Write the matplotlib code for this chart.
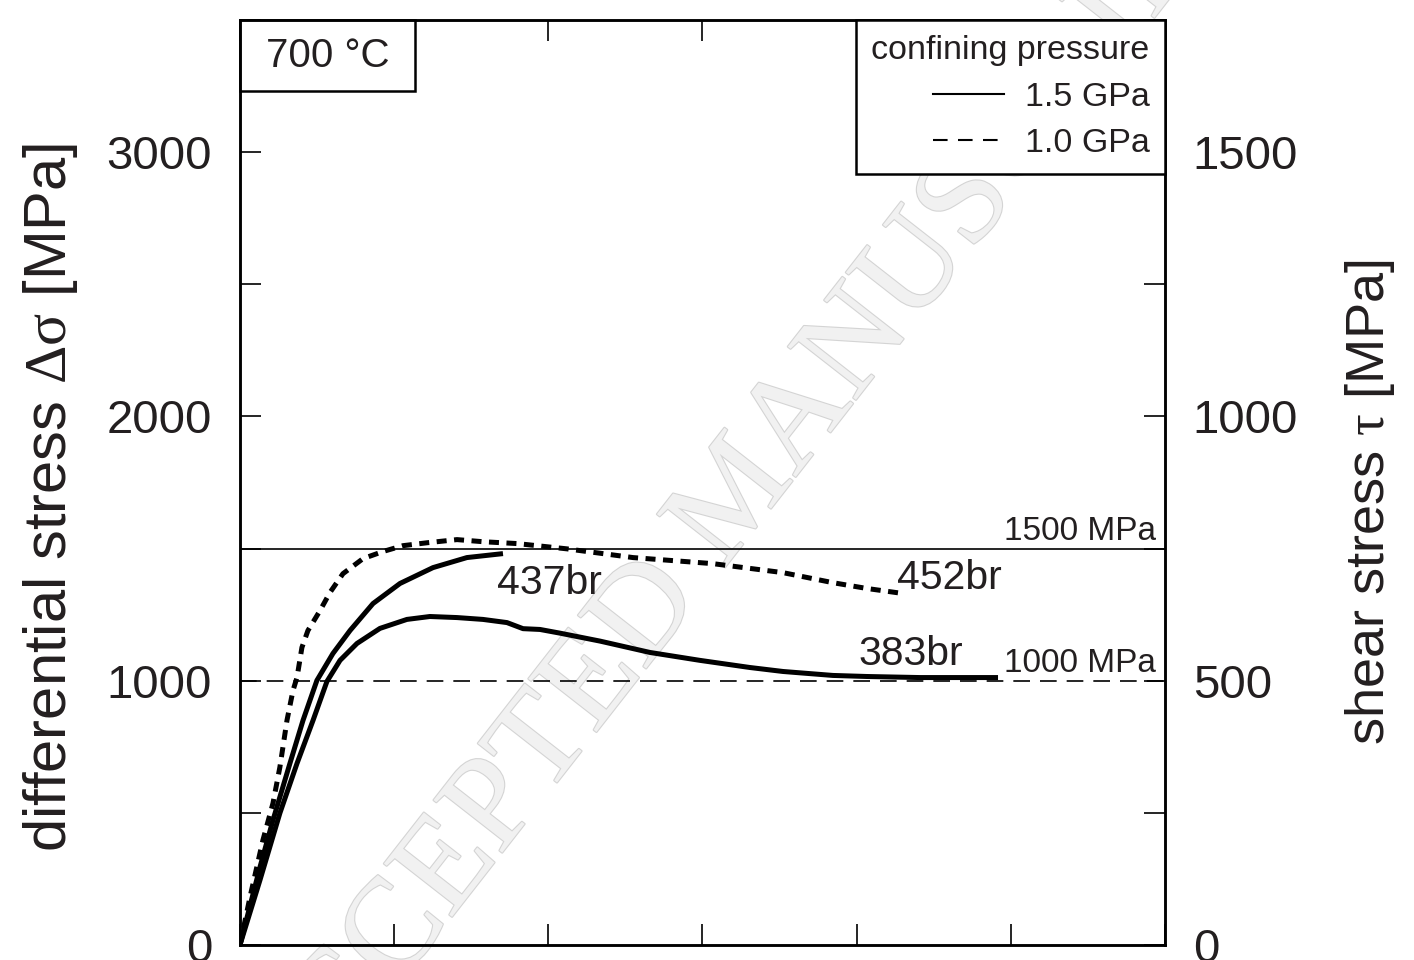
import matplotlib

matplotlib.use("Agg")
import matplotlib.pyplot as plt  # noqa: E402
import matplotlib.patheffects as pe  # noqa: E402
from matplotlib import font_manager  # noqa: E402
from matplotlib.lines import Line2D  # noqa: E402
from matplotlib.patches import Rectangle  # noqa: E402
from matplotlib.ticker import MultipleLocator, NullFormatter  # noqa: E402

# x axis has no labels in the original; 6 equal divisions
X_MAX = 6.0

# 452br, 1.0 GPa (dashed)
x_452 = [0.0, 0.065, 0.149, 0.214, 0.259, 0.305, 0.344, 0.370, 0.402, 0.441, 0.519,
         0.584, 0.668, 0.798, 0.928, 1.057, 1.213, 1.408, 1.576, 1.797, 2.121, 2.549,
         3.068, 3.522, 3.846, 4.067, 4.301]
s_452 = [0, 181, 397, 536, 673, 850, 963, 1012, 1126, 1190, 1265,
         1334, 1405, 1462, 1489, 1511, 1522, 1534, 1526, 1519, 1499, 1466,
         1443, 1409, 1371, 1349, 1330]

# 437br, 1.5 GPa (solid)
x_437 = [0.0, 0.130, 0.214, 0.324, 0.409, 0.499, 0.603, 0.714, 0.863, 1.038, 1.252,
         1.472, 1.706]
s_437 = [0, 295, 472, 687, 850, 1001, 1103, 1190, 1292, 1368, 1428, 1466, 1481]

# 383br, 1.5 GPa (solid)
x_383 = [0.0, 0.130, 0.259, 0.370, 0.474, 0.564, 0.649, 0.759, 0.908, 1.083, 1.232,
         1.408, 1.576, 1.732, 1.836, 1.946, 2.076, 2.335, 2.659, 2.984, 3.308, 3.522,
         3.846, 4.067, 4.411, 4.917]
s_383 = [0, 246, 499, 687, 850, 997, 1077, 1141, 1198, 1232, 1243,
         1239, 1232, 1220, 1197, 1194, 1180, 1150, 1107, 1077, 1050, 1035,
         1020, 1016, 1012, 1012]

ref_levels = [1500, 1000]
ref_labels = ["1500 MPa", "1000 MPa"]
sample_labels = ["437br", "452br", "383br"]
sample_pos = [(1.667, 1371), (4.26, 1390), (4.01, 1103)]

INK = "#231f20"


def has_font(name):
    try:
        font_manager.findfont(name, fallback_to_default=False)
        return True
    except Exception:
        return False


SANS = "Liberation Sans"
NARROW = "Liberation Sans Narrow" if has_font("Liberation Sans Narrow") else SANS
narrow_ok = NARROW != SANS

plt.rcParams["font.family"] = [SANS, "DejaVu Sans"]
plt.rcParams["mathtext.fontset"] = "custom"
plt.rcParams["mathtext.rm"] = "Liberation Serif"
plt.rcParams["mathtext.it"] = "Liberation Serif"

fig = plt.figure(figsize=(14.14, 9.6), dpi=100)
ax = fig.add_axes([0.1697, 0.015625, 0.6542, 0.9635])
ax.set_xlim(0, X_MAX)
ax.set_ylim(0, 3500)
ax.patch.set_alpha(0)

# watermark behind everything
fig.text(0.523, 0.482, "ACCEPTED MANUSCRIPT", family="Liberation Serif", fontsize=95,
         color="#f1f1f1", rotation=52, ha="center", va="center", zorder=-1,
         rotation_mode="anchor",
         path_effects=[pe.Stroke(linewidth=1.6, foreground="#d4d4d4"), pe.Normal()])

for lvl, lab, ls in zip(ref_levels, ref_labels, ["-", (0, (10, 6))]):
    ax.axhline(lvl, color="black", lw=1.2, ls=ls, zorder=2)
    ax.text(0.99, lvl + 32, lab, transform=ax.get_yaxis_transform(), ha="right",
            va="baseline", fontsize=24, color=INK)

ax.plot(x_383, s_383, color="black", lw=3.6, solid_capstyle="butt", zorder=3)
ax.plot(x_437, s_437, color="black", lw=3.6, solid_capstyle="butt", zorder=3)
ax.plot(x_452, s_452, color="black", lw=3.6, ls=(0, (2.0, 1.5)), zorder=3)

for lab, (xp, yp) in zip(sample_labels, sample_pos):
    ax.text(xp, yp, lab, fontsize=29.5, color=INK, ha="left", va="center")

# temperature box
ax.add_patch(Rectangle((0, 1 - 0.0768), 0.189, 0.0768, transform=ax.transAxes,
                       fill=True, facecolor="white", edgecolor="black", lw=1.8,
                       zorder=5, clip_on=False))
ax.text(0.0946, 1 - 0.0384, "700 °C", transform=ax.transAxes, ha="center",
        va="center", fontsize=29, color=INK, zorder=6)

ax.xaxis.set_major_locator(MultipleLocator(1))
ax.xaxis.set_major_formatter(NullFormatter())
ax.yaxis.set_major_locator(MultipleLocator(1000))
ax.yaxis.set_minor_locator(MultipleLocator(500))
ax.tick_params(axis="both", which="both", direction="in", length=15, width=1.2,
               top=True, color="black")
ax.tick_params(axis="y", which="major", labelsize=34, pad=20, labelcolor=INK)
for side in ax.spines.values():
    side.set_linewidth(1.8)

# shear stress = half the differential stress
ax2 = ax.twinx()
ax2.set_ylim(0, 1750)
ax2.yaxis.set_major_locator(MultipleLocator(500))
ax2.yaxis.set_minor_locator(MultipleLocator(250))
ax2.tick_params(axis="y", which="both", direction="in", length=15, width=1.2)
ax2.tick_params(axis="y", which="major", labelsize=34, pad=20, labelcolor=INK)
for side in ax2.spines.values():
    side.set_linewidth(1.8)

# legend on the top axes so it hides the right-hand ticks
handles = [Line2D([], [], color="black", lw=1.5),
           Line2D([], [], color="black", lw=1.5, ls=(0, (7, 5)))]
leg = ax2.legend(handles, ["1.5 GPa", "1.0 GPa"], title="confining pressure",
                 loc="upper right", fontsize=24.5, title_fontsize=24.5, frameon=True,
                 fancybox=False, edgecolor="black", borderaxespad=0,
                 handlelength=2.1, handletextpad=0.6, alignment="right",
                 borderpad=0.45, labelspacing=0.45)
leg.get_frame().set_linewidth(1.8)
leg.get_frame().set_alpha(1)
for t in leg.get_texts() + [leg.get_title()]:
    t.set_color(INK)

fig.text(0.0354, 0.482, r"differential stress $\Delta\sigma$ [MPa]", family=NARROW,
         fontsize=50 if narrow_ok else 43, rotation=90, ha="center", va="center",
         color=INK)
fig.text(0.969, 0.477, r"shear stress $\tau$ [MPa]", family=NARROW,
         fontsize=45 if narrow_ok else 39, rotation=90, ha="center", va="center",
         color=INK)

fig.savefig("out.png", dpi=100)
plt.close(fig)
